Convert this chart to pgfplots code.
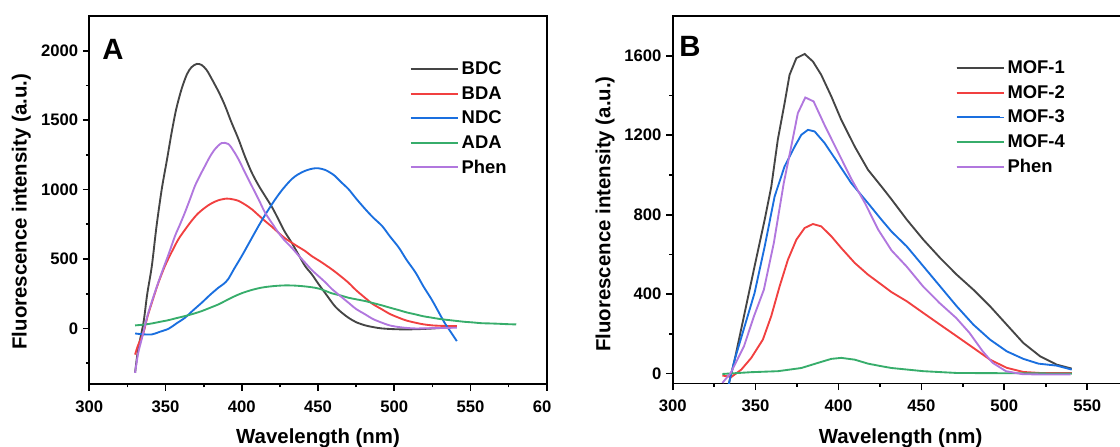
\documentclass[border=0pt]{standalone}
\usepackage{fontspec}
\setmainfont{Liberation Sans}
\usepackage{pgfplots}
\pgfplotsset{compat=1.18}

\definecolor{cBlack}{HTML}{454545}
\definecolor{cRed}{HTML}{F14040}
\definecolor{cBlue}{HTML}{1A6FDF}
\definecolor{cGreen}{HTML}{37AD6B}
\definecolor{cPurple}{HTML}{B177DE}

\pgfplotsset{
 myaxis/.style={
  scale only axis,
  axis line style={line width=1.4pt},
  tick style={line width=1.3pt, black},
  tick align=outside,
  major tick length=4.9pt,
  minor tick length=2.6pt,
  xtick pos=bottom, ytick pos=left,
  ticklabel style={font=\fontsize{12.5}{13}\selectfont\bfseries},
  /pgf/number format/assume math mode=true,
  /pgf/number format/1000 sep={},
  xticklabel style={yshift=-4pt},
  label style={font=\fontsize{15.3}{16}\selectfont\bfseries},
  legend style={draw=none, fill=none, inner sep=0pt, row sep=3.3pt,
    font=\fontsize{13.8}{14}\selectfont\bfseries, anchor=north west,
    nodes={inner sep=0.2em}},
  legend cell align=left,
  legend image code/.code={\draw[##1, line width=1.5pt] (0pt,0pt) -- (32.5pt,0pt);\path (0pt,0pt) -- (35.5pt,0pt);},
  every axis plot/.append style={line width=1.4pt},
 }
}

\begin{document}
\begin{tikzpicture}
\begin{scope}
\clip (0pt,0pt) rectangle (412.5pt,334.5pt);
\begin{axis}[myaxis, at={(67pt,46.5pt)}, anchor=south west,
  width=343.05pt, height=276pt,
  xmin=300, xmax=600, ymin=-400, ymax=2250,
  xtick={300,350,...,600}, minor xtick={325,375,...,575},
  ytick={0,500,...,2000}, minor ytick={-250,250,750,1250,1750},
  xlabel={Wavelength (nm)}, ylabel={Fluorescence intensity (a.u.)},
  xlabel style={at={(axis description cs:0.5,-0.1612)}, anchor=base},
  ylabel style={at={(axis description cs:-0.1485,0.468)}, anchor=center},
  legend style={at={(axis description cs:0.700,0.8835)}},
]
\addplot[cBlack, smooth] coordinates {
(330,-320)(332,-150)(335.5,41)(338,250)(341,450)(344,730)(347.5,1003)(351,1220)(354,1412)(357,1580)(360.5,1724)(364,1830)(367,1881)(370.5,1905)(373.7,1897)(377,1860)(380.3,1797)(385,1700)(389,1604)(393,1490)(397.8,1364)(402,1240)(406.5,1123)(411,1030)(415.2,955)(420,870)(424,786)(428,700)(432.7,618)(437,535)(441.5,450)(446,389)(450,325)(455,250)(461,161)(466,110)(470,77)(475,45)(481,22)(486,10)(492,0)(502,-6)(513,-6)(524,-1)(530,3)(541,12)};
\addlegendentry{BDC}
\addplot[cRed, smooth] coordinates {
(330,-188)(332,-120)(335.5,-31)(338,80)(341,185)(345,320)(349.6,450)(354,550)(358.4,642)(363,715)(367,774)(371,825)(376,871)(380,900)(384.6,923)(390,935)(394,930)(397.8,919)(402,893)(406.5,859)(411,815)(415.2,774)(420,730)(424,690)(428,652)(432.7,618)(437,588)(441.5,558)(446,520)(451,486)(459,426)(465,375)(470,329)(475,275)(480.8,221)(486,175)(492,137)(497,105)(503,77)(508,57)(514,41)(519,30)(525,22)(533,18)(541,17)};
\addlegendentry{BDA}
\addplot[cBlue, smooth] coordinates {
(330,-36)(335,-42)(341,-43)(346,-25)(352,-2)(357,35)(362.7,77)(368,130)(373.7,185)(379,240)(384.6,293)(388,320)(391,354)(395,430)(400,522)(405,620)(411,738)(416,830)(422,931)(427,1005)(432.7,1075)(437,1110)(441.5,1135)(446,1150)(450,1154)(454.6,1142)(458,1122)(461,1099)(465,1055)(470,1003)(475,935)(481,859)(486,800)(492,738)(497,665)(503,582)(508,495)(514,402)(519,305)(524.5,209)(529,120)(533,41)(537,-25)(541,-91)};
\addlegendentry{NDC}
\addplot[cGreen, smooth] coordinates {
(330,22)(336,28)(341,36)(346,47)(352,60)(357,74)(362.7,89)(368,105)(373.7,125)(379,148)(384.6,173)(390,203)(395.5,233)(401,258)(406.5,277)(412,292)(417.4,301)(423,307)(428.4,310)(434,309)(439.3,305)(445,298)(451,286)(459,253)(465,237)(470,221)(475,210)(481,197)(486,183)(492,166)(497,150)(503,132)(508,116)(514,101)(519,88)(525,77)(530,68)(536,60)(541,54)(546,48)(552,43)(557,38)(563,36)(568,34)(574,31)(580,29)};
\addlegendentry{ADA}
\addplot[cPurple, smooth] coordinates {
(330,-320)(332,-180)(334.3,-79)(336.5,20)(338.7,113)(343,260)(347.5,402)(352,535)(356.2,666)(359.5,750)(362.7,835)(366,930)(369.3,1027)(372.5,1100)(375.9,1171)(379,1235)(382.4,1291)(386.8,1335)(391.2,1328)(394.5,1280)(397.8,1219)(402,1125)(406.5,1027)(411,930)(415.2,835)(420,755)(424,690)(428,635)(432.7,582)(437,528)(441.5,474)(446,420)(451,370)(455,330)(459,285)(465,230)(470,185)(475,140)(481,101)(486,68)(492,41)(497,22)(503,10)(508,4)(514,0)(524,2)(533,4)(541,5)};
\addlegendentry{Phen}
\end{axis}
\end{scope}

\begin{scope}
\clip (412.5pt,0pt) rectangle (840pt,334.5pt);
\begin{axis}[myaxis, at={(504.5pt,46.875pt)}, anchor=south west,
  width=341.96pt, height=275.6pt,
  xmin=300, xmax=575, ymin=-50, ymax=1800,
  xtick={300,350,...,550}, minor xtick={325,375,...,575},
  ytick={0,400,...,1600}, minor ytick={200,600,1000,1400},
  xlabel={Wavelength (nm)}, ylabel={Fluorescence intensity (a.u.)},
  xlabel style={at={(axis description cs:0.5,-0.1628)}, anchor=base},
  ylabel style={at={(axis description cs:-0.1480,0.461)}, anchor=center},
  legend style={at={(axis description cs:0.620,0.886)}},
]
\addplot[cBlack] coordinates {
(330,-200)(334.5,-30)(337.4,70)(343.4,305)(349.4,540)(355.5,775)(359.5,942)(363.4,1177)(367.5,1361)(370.5,1504)(374.6,1588)(379.6,1609)(384.6,1571)(389.6,1504)(395.7,1395)(401.7,1277)(409.8,1143)(417.8,1026)(425.9,942)(432,877)(441.2,775)(451.2,674)(461.3,582)(471.3,498)(481.4,422)(491.4,339)(501.5,246)(511.5,154)(521.6,87)(531.6,45)(540.7,25)};
\addlegendentry{MOF-1}
\addplot[cRed] coordinates {
(330,-10)(335.4,-17)(341.4,20)(347.4,79)(354.4,171)(359.4,288)(364.5,439)(369.5,573)(374.6,674)(379.6,733)(384.6,753)(389.6,741)(395.7,691)(401.7,632)(409.8,557)(417.8,498)(425.9,448)(432,410)(441.2,364)(451.2,305)(461.3,246)(471.3,188)(481.4,129)(491.4,70)(501.5,29)(511.5,8)(521.6,3)(540.7,3)};
\addlegendentry{MOF-2}
\addplot[cBlue] coordinates {
(331,-150)(337.4,70)(343.4,238)(349.4,406)(355.5,640)(361.5,892)(367.5,1043)(373.6,1143)(377.6,1202)(381.6,1227)(385.6,1219)(391.7,1160)(399.7,1060)(407.7,959)(417.8,858)(425.9,775)(432,715)(441.2,640)(451.2,540)(461.3,439)(471.3,339)(481.4,246)(491.4,171)(501.5,112)(511.5,74)(520.6,50)(531.6,40)(540.7,20)};
\addlegendentry{MOF-3}
\addplot[cGreen] coordinates {
(330,-2)(347.4,7)(363.5,12)(377.6,28)(387.7,54)(395.7,74)(401.7,79)(409.8,70)(417.8,50)(425.9,37)(432,28)(451.2,12)(471.3,3)(540.7,0)};
\addlegendentry{MOF-4}
\addplot[cPurple] coordinates {
(330,-47)(335,3)(343,137)(349,288)(355,422)(361,657)(367,959)(371.5,1143)(375.5,1311)(380,1390)(385,1370)(392,1244)(400,1110)(408,976)(416,858)(424,724)(432,620)(441,540)(451,439)(461,355)(471,280)(479,205)(487,112)(493,54)(501,12)(511,-3)(525,-5)(540,-5)};
\addlegendentry{Phen}
\end{axis}
\end{scope}

\node[font=\fontsize{22}{22}\selectfont\bfseries] at (84.75pt,297.75pt) {A};
\node[font=\fontsize{22}{22}\selectfont\bfseries] at (517.5pt,299.8pt) {B};

\pgfresetboundingbox
\path (0pt,0pt) rectangle (840pt,334.5pt);
\end{tikzpicture}
\end{document}
